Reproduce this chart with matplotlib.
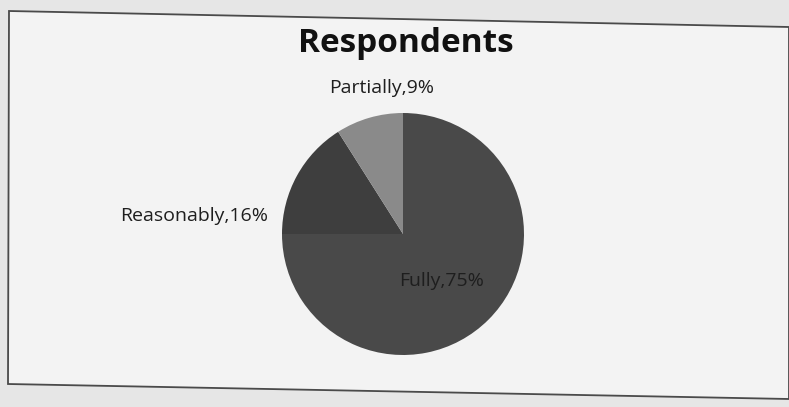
import matplotlib.pyplot as plt
from matplotlib.patches import Polygon

# chart data
categories = ['Fully', 'Reasonably', 'Partially']
shares = [75, 16, 9]
colors = ['#494949', '#3e3e3e', '#8a8a8a']

W, H = 789, 407
fig = plt.figure(figsize=(W / 100, H / 100), dpi=100)
fig.patch.set_facecolor('#e6e6e6')
ax = fig.add_axes([0, 0, 1, 1])

# the photographed chart frame (slightly skewed)
frame = Polygon([(9, H - 11), (789, H - 27), (789, H - 399), (8, H - 384)],
                closed=True, facecolor='#f3f3f3', edgecolor='#4a4a4a', lw=1.3)
ax.add_patch(frame)

cx, cy, r = 403, H - 234, 121
ax.pie(shares, colors=colors, startangle=90, counterclock=False,
       center=(cx, cy), radius=r, frame=True,
       wedgeprops=dict(linewidth=0))
ax.set_xlim(0, W)
ax.set_ylim(0, H)
ax.set_aspect('equal')
ax.axis('off')

font = ['Open Sans', 'DejaVu Sans']
ax.text(406, H - 44, 'Respondents', ha='center', va='center',
        fontsize=24, fontweight='bold', family=font, color='#111111')

label_pos = {'Fully': (442, H - 281), 'Reasonably': (194, H - 216),
             'Partially': (382, H - 88)}
for name, val in zip(categories, shares):
    x, y = label_pos[name]
    ax.text(x, y, f'{name},{val}%', ha='center', va='center',
            fontsize=14, family=font, color='#1e1e1e')

fig.savefig('out.png', dpi=100, facecolor=fig.get_facecolor())
